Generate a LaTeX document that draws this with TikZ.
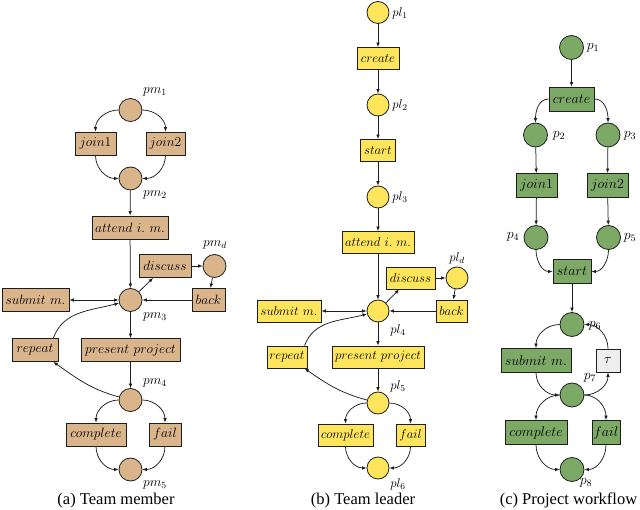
\RequirePackage{fix-cm}
\documentclass[tikz,border=0pt]{standalone}
\usepackage{fontspec}
\newfontfamily\capfont{Liberation Serif}
\usetikzlibrary{arrows.meta}
\definecolor{tanc}{RGB}{218,181,140}
\definecolor{yelc}{RGB}{255,229,92}
\definecolor{grnc}{RGB}{124,170,102}
\definecolor{grayc}{RGB}{238,238,238}
\definecolor{edgec}{RGB}{30,30,30}
\tikzset{
  place/.style={circle, draw=edgec, line width=0.8pt, inner sep=0pt},
  trans/.style={rectangle, draw=edgec, line width=0.8pt, inner xsep=1.5pt, inner ysep=0pt},
  arr/.style={-{Latex[length=4.5pt,width=3.6pt]}, line width=0.75pt, draw=edgec},
  darr/.style={{Latex[length=4.5pt,width=3.6pt]}-{Latex[length=4.5pt,width=3.6pt]}, line width=0.75pt, draw=edgec},
  lbl/.style={inner sep=0pt},
  captxt/.style={font=\capfont\fontsize{16.5}{19}\selectfont, anchor=base, inner sep=0pt}
}
\begin{document}
\begin{tikzpicture}[x=1pt,y=1pt]
\useasboundingbox (0,0) rectangle (640,509);
% ---------------- (a) Team member ----------------
\begin{scope}[place/.append style={minimum size=23pt, fill=tanc},
  trans/.append style={minimum height=23pt, fill=tanc},
  every node/.append style={font=\fontsize{13.5}{16}\selectfont}]
\node[place] (apm1) at (130.5,399) {};
\node[trans, minimum width=41pt] (aj1) at (95.5,365.5) {$join1$};
\node[trans, minimum width=39pt] (aj2) at (165.5,365.5) {$join2$};
\node[place] (apm2) at (130.5,330.5) {};
\node[trans, minimum width=76pt] (aatt) at (130,281.5) {$attend\ i.\ m.$};
\node[trans, minimum width=52pt] (adis) at (165,243) {$discuss$};
\node[place] (apmd) at (214.5,243) {};
\node[trans, minimum width=33pt] (abk) at (208.5,209) {$back$};
\node[place] (apm3) at (130.5,209) {};
\node[trans, minimum width=67pt] (asub) at (35.5,209) {$submit\ m.$};
\node[trans, minimum width=46pt] (arep) at (35,159) {$repeat$};
\node[trans, minimum width=99pt] (app) at (130.5,159) {$present\ project$};
\node[place] (apm4) at (130.5,109) {};
\node[trans, minimum width=60pt] (acmp) at (96,74.5) {$complete$};
\node[trans, minimum width=32pt] (afl) at (165,74.5) {$fail$};
\node[place] (apm5) at (130.5,39.5) {};
\node[lbl] (lapm1) at (155,417) {$pm_1$};
\node[lbl] (lapm2) at (155,314) {$pm_2$};
\node[lbl] (lapmd) at (215,264) {$pm_d$};
\node[lbl] (lapm3) at (155,192) {$pm_3$};
\node[lbl] (lapm4) at (155,126) {$pm_4$};
\node[lbl] (lapm5) at (155,24.5) {$pm_5$};
\end{scope}
\draw[arr] (apm1) to[out=180,in=90] (aj1);
\draw[arr] (apm1) to[out=0,in=90] (aj2);
\draw[arr] (aj1) to[out=-90,in=180] (apm2);
\draw[arr] (aj2) to[out=-90,in=0] (apm2);
\draw[arr] (apm2) -- (aatt);
\draw[arr] (aatt) -- (apm3);
\draw[arr] (apm3) -- (adis.-135);
\draw[arr] (adis) -- (apmd);
\draw[arr] (apmd) -- (abk);
\draw[arr] (abk) -- (apm3);
\draw[darr] (asub) -- (apm3);
\draw[arr] (arep.33) to[out=70,in=195] (apm3);
\draw[arr] (apm4) to[out=165,in=-35] (arep.-33);
\draw[arr] (apm3) -- (app);
\draw[arr] (app) -- (apm4);
\draw[arr] (apm4) to[out=180,in=90] (acmp);
\draw[arr] (apm4) to[out=0,in=90] (afl);
\draw[arr] (acmp) to[out=-90,in=180] (apm5);
\draw[arr] (afl) to[out=-90,in=0] (apm5);
\node[captxt] (capa) at (116,5) {(a) Team member};
% ---------------- (b) Team leader ----------------
\begin{scope}[place/.append style={minimum size=22pt, fill=yelc},
  trans/.append style={minimum height=22pt, fill=yelc},
  every node/.append style={font=\fontsize{12.8}{15}\selectfont}]
\node[place] (bpl1) at (378,496.5) {};
\node[trans, minimum width=42pt] (bcr) at (378,450.5) {$create$};
\node[place] (bpl2) at (378,404) {};
\node[trans, minimum width=35pt] (bst) at (378,358.5) {$start$};
\node[place] (bpl3) at (378,312) {};
\node[trans, minimum width=72pt] (batt) at (378,266.5) {$attend\ i.\ m.$};
\node[trans, minimum width=49pt] (bdis) at (410.5,231) {$discuss$};
\node[place] (bpld) at (457,231) {};
\node[trans, minimum width=31pt] (bbk) at (451.5,198) {$back$};
\node[place] (bpl4) at (378,198) {};
\node[trans, minimum width=64pt] (bsub) at (289,198) {$submit\ m.$};
\node[trans, minimum width=40pt] (brep) at (287,152) {$repeat$};
\node[trans, minimum width=92pt] (bpp) at (378,152) {$present\ project$};
\node[place] (bpl5) at (378,106) {};
\node[trans, minimum width=55pt] (bcmp) at (345.5,74) {$complete$};
\node[trans, minimum width=29pt] (bfl) at (410.5,74) {$fail$};
\node[place] (bpl6) at (378,41) {};
\node[lbl] (lbpl1) at (400,496) {$pl_1$};
\node[lbl] (lbpl2) at (400,404) {$pl_2$};
\node[lbl] (lbpl3) at (400,312) {$pl_3$};
\node[lbl] (lbpld) at (457,251) {$pl_d$};
\node[lbl] (lbpl4) at (398,179) {$pl_4$};
\node[lbl] (lbpl5) at (398,123) {$pl_5$};
\node[lbl] (lbpl6) at (398,25) {$pl_6$};
\end{scope}
\draw[arr] (bpl1) -- (bcr);
\draw[arr] (bcr) -- (bpl2);
\draw[arr] (bpl2) -- (bst);
\draw[arr] (bst) -- (bpl3);
\draw[arr] (bpl3) -- (batt);
\draw[arr] (batt) -- (bpl4);
\draw[arr] (bpl4) -- (bdis.-135);
\draw[arr] (bdis) -- (bpld);
\draw[arr] (bpld) -- (bbk);
\draw[arr] (bbk) -- (bpl4);
\draw[darr] (bsub) -- (bpl4);
\draw[arr] (brep.33) to[out=70,in=195] (bpl4);
\draw[arr] (bpl5) to[out=165,in=-35] (brep.-33);
\draw[arr] (bpl4) -- (bpp);
\draw[arr] (bpp) -- (bpl5);
\draw[arr] (bpl5) to[out=180,in=90] (bcmp);
\draw[arr] (bpl5) to[out=0,in=90] (bfl);
\draw[arr] (bcmp) to[out=-90,in=180] (bpl6);
\draw[arr] (bfl) to[out=-90,in=0] (bpl6);
\node[captxt] (capb) at (363,5) {(b) Team leader};
% ---------------- (c) Project workflow ----------------
\begin{scope}[place/.append style={minimum size=24pt, fill=grnc},
  trans/.append style={minimum height=24pt, fill=grnc},
  every node/.append style={font=\fontsize{14}{16}\selectfont}]
\node[place] (cp1) at (571.5,461.5) {};
\node[trans, minimum width=45pt] (ccr) at (571.5,410) {$create$};
\node[place] (cp2) at (535.5,374) {};
\node[place] (cp3) at (608,374) {};
\node[trans, minimum width=41pt] (cj1) at (536.5,323.5) {$join1$};
\node[trans, minimum width=41pt] (cj2) at (607.5,323.5) {$join2$};
\node[place] (cp4) at (536,271.5) {};
\node[place] (cp5) at (608.5,271.5) {};
\node[trans, minimum width=38pt] (cst) at (572,237.5) {$start$};
\node[place] (cp6) at (572,184.5) {};
\node[trans, minimum width=70pt] (csub) at (536,148.5) {$submit\ m.$};
\node[trans, minimum width=24pt, minimum height=23pt, fill=grayc] (ctau) at (608,148.5) {$\tau$};
\node[place] (cp7) at (572,114) {};
\node[trans, minimum width=62pt] (ccmp) at (536,76.5) {$complete$};
\node[trans, minimum width=28pt] (cfl) at (606,76.5) {$fail$};
\node[place] (cp8) at (572,39.5) {};
\node[lbl] (lcp1) at (593,461) {$p_1$};
\node[lbl] (lcp2) at (559,373) {$p_2$};
\node[lbl] (lcp3) at (630,373) {$p_3$};
\node[lbl] (lcp4) at (513,272) {$p_4$};
\node[lbl] (lcp5) at (630,271) {$p_5$};
\node[lbl] (lcp6) at (595,183) {$p_6$};
\node[lbl] (lcp7) at (590,131) {$p_7$};
\node[lbl] (lcp8) at (586,26) {$p_8$};
\end{scope}
\draw[arr] (cp1) -- (ccr);
\draw[arr] (ccr) to[out=180,in=90] (cp2);
\draw[arr] (ccr) to[out=0,in=90] (cp3);
\draw[arr] (cp2) -- (cj1);
\draw[arr] (cj1) -- (cp4);
\draw[arr] (cp3) -- (cj2);
\draw[arr] (cj2) -- (cp5);
\draw[arr] (cp4) to[out=-90,in=180] (cst);
\draw[arr] (cp5) to[out=-90,in=0] (cst);
\draw[arr] (cst) -- (cp6);
\draw[arr] (cp6) to[out=180,in=90] (csub);
\draw[arr] (csub) to[out=-90,in=180] (cp7);
\draw[arr] (cp7) to[out=0,in=-90] (ctau);
\draw[arr] (ctau) to[out=90,in=0] (cp6);
\draw[arr] (cp7) to[out=180,in=90] (ccmp);
\draw[arr] (cp7) to[out=0,in=90] (cfl);
\draw[arr] (ccmp) to[out=-90,in=180] (cp8);
\draw[arr] (cfl) to[out=-90,in=0] (cp8);
\node[captxt] (capc) at (568.5,5) {(c) Project workflow};
\end{tikzpicture}
\end{document}
